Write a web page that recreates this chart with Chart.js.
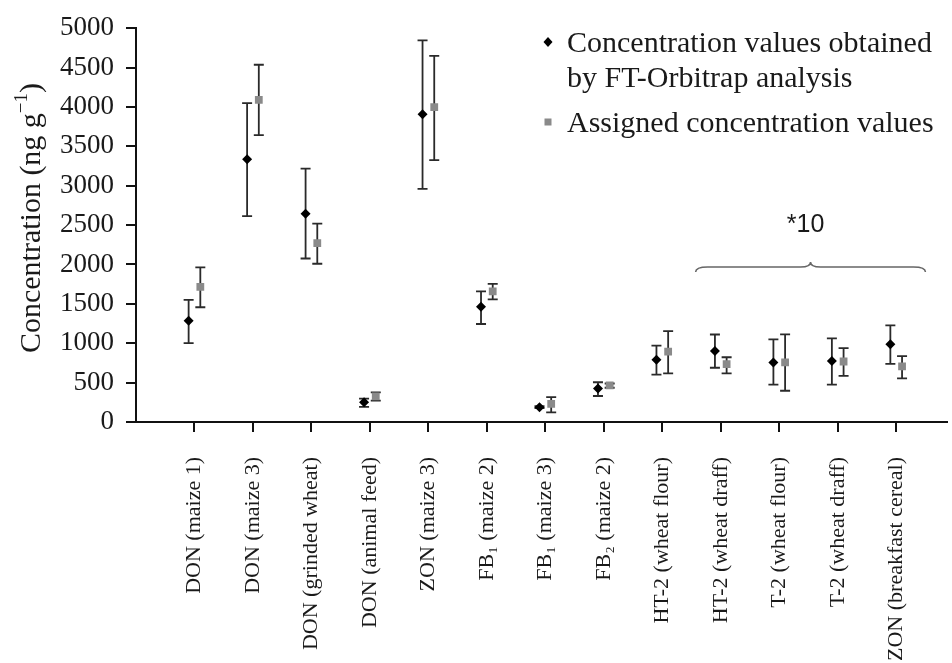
<!DOCTYPE html>
<html>
<head>
<meta charset="utf-8">
<script src="https://cdn.jsdelivr.net/npm/chart.js@4.4.1/dist/chart.umd.min.js"></script>
<style>
  html, body { margin: 0; padding: 0; background: #fff; }
  #wrap { width: 952px; height: 663px; position: relative; }
</style>
</head>
<body>
<div id="wrap"><canvas id="concChart"></canvas></div>
<script>
// === Data ===
const samples = [
  "DON (maize 1)", "DON (maize 3)", "DON (grinded wheat)", "DON (animal feed)",
  "ZON (maize 3)", "FB\u2081 (maize 2)", "FB\u2081 (maize 3)", "FB\u2082 (maize 2)",
  "HT-2 (wheat flour)", "HT-2 (wheat draff)", "T-2 (wheat flour)", "T-2 (wheat draff)",
  "ZON (breakfast cereal)"
];
const orbitrapValues = [1287, 3337, 2644, 251, 3906, 1462, 188, 426, 789, 902, 756, 773, 988];
const orbitrapLow    = [1002, 2615, 2076, 192, 2961, 1244, 175, 330, 602, 689, 474, 474, 739];
const orbitrapHigh   = [1550, 4048, 3217, 297, 4845, 1658, 200, 505, 969, 1111, 1049, 1063, 1226];
const assignedValues = [1717, 4089, 2272, 326, 3997, 1658, 229, 464, 894, 736, 756, 768, 706];
const assignedLow    = [1457, 3643, 2009, 272, 3325, 1558, 122, 435, 618, 618, 397, 585, 555];
const assignedHigh   = [1963, 4536, 2519, 376, 4649, 1754, 317, 489, 1153, 822, 1113, 938, 836];
const yTicks = [0, 500, 1000, 1500, 2000, 2500, 3000, 3500, 4000, 4500, 5000];

const legendOrbitrap = ["Concentration values obtained", "by FT-Orbitrap analysis"];
const legendAssigned = "Assigned concentration values";
const bracketLabel = "*10";
const bracketFirst = 10, bracketLast = 13;

const serif = '"Liberation Serif", "Times New Roman", serif';
const ink = "#1a1a1a";
const grey = "#8a8a8a";

// === Error bars ===
const errorBars = {
  id: "errorBars",
  beforeDatasetsDraw(chart) {
    const { ctx } = chart;
    const sets = [[0, orbitrapLow, orbitrapHigh], [1, assignedLow, assignedHigh]];
    ctx.save();
    ctx.strokeStyle = "#2a2a2a";
    ctx.lineWidth = 1.8;
    sets.forEach(([di, low, high]) => {
      chart.getDatasetMeta(di).data.forEach((pt, i) => {
        const y1 = chart.scales.y.getPixelForValue(low[i]);
        const y2 = chart.scales.y.getPixelForValue(high[i]);
        ctx.beginPath();
        ctx.moveTo(pt.x, y1); ctx.lineTo(pt.x, y2);
        ctx.moveTo(pt.x - 5, y1); ctx.lineTo(pt.x + 5, y1);
        ctx.moveTo(pt.x - 5, y2); ctx.lineTo(pt.x + 5, y2);
        ctx.stroke();
      });
    });
    ctx.restore();
  }
};

// === Annotations: y title, legend, bracket ===
const decorations = {
  id: "decorations",
  afterDraw(chart) {
    const { ctx, scales } = chart;
    ctx.save();

    // y title with superscript
    ctx.translate(40, 218);
    ctx.rotate(-Math.PI / 2);
    ctx.fillStyle = ink;
    ctx.textBaseline = "alphabetic";
    const main = "Concentration (ng g", sup = "\u22121", tail = ")";
    ctx.font = "30px " + serif;
    const wMain = ctx.measureText(main).width, wTail = ctx.measureText(tail).width;
    ctx.font = "19px " + serif;
    const wSup = ctx.measureText(sup).width;
    let x = -(wMain + wSup + wTail) / 2;
    ctx.font = "30px " + serif;
    ctx.fillText(main, x, 0); x += wMain;
    ctx.font = "19px " + serif;
    ctx.fillText(sup, x, -13); x += wSup;
    ctx.font = "30px " + serif;
    ctx.fillText(tail, x, 0);
    ctx.restore();

    // legend
    ctx.save();
    ctx.fillStyle = "#000";
    ctx.beginPath();
    ctx.moveTo(548, 37); ctx.lineTo(552.5, 42); ctx.lineTo(548, 47); ctx.lineTo(543.5, 42);
    ctx.closePath(); ctx.fill();
    ctx.fillStyle = grey;
    ctx.fillRect(544.5, 118.5, 7, 7);
    ctx.fillStyle = ink;
    ctx.font = "30px " + serif;
    ctx.textBaseline = "alphabetic";
    ctx.fillText(legendOrbitrap[0], 567, 52);
    ctx.fillText(legendOrbitrap[1], 567, 87);
    ctx.fillText(legendAssigned, 567, 132);

    // bracket over the *10 samples
    const xL = scales.x.getPixelForValue(bracketFirst - 0.43);
    const xR = scales.x.getPixelForValue(bracketLast + 0.5);
    const xM = (xL + xR) / 2;
    const yB = 267;
    ctx.strokeStyle = "#666";
    ctx.lineWidth = 1.5;
    ctx.beginPath();
    ctx.moveTo(xL, yB + 5);
    ctx.quadraticCurveTo(xL, yB, xL + 12, yB);
    ctx.lineTo(xM - 10, yB);
    ctx.quadraticCurveTo(xM, yB, xM, yB - 5);
    ctx.quadraticCurveTo(xM, yB, xM + 10, yB);
    ctx.lineTo(xR - 12, yB);
    ctx.quadraticCurveTo(xR, yB, xR, yB + 5);
    ctx.stroke();
    ctx.fillStyle = ink;
    ctx.font = '25px "Liberation Sans", Arial, sans-serif';
    ctx.textAlign = "center";
    ctx.fillText(bracketLabel, xM - 5, 232);
    ctx.restore();
  }
};

// === Chart ===
new Chart(document.getElementById("concChart"), {
  type: "scatter",
  data: {
    datasets: [
      {
        label: legendOrbitrap.join(" "),
        data: orbitrapValues.map((v, i) => ({ x: i + 1 - 0.1, y: v })),
        pointStyle: "rectRot",
        pointRadius: 5,
        backgroundColor: "#000",
        borderColor: "#000",
        borderWidth: 0
      },
      {
        label: legendAssigned,
        data: assignedValues.map((v, i) => ({ x: i + 1 + 0.1, y: v })),
        pointStyle: "rect",
        pointRadius: 5.5,
        backgroundColor: grey,
        borderColor: grey,
        borderWidth: 0
      }
    ]
  },
  options: {
    responsive: true,
    maintainAspectRatio: false,
    animation: false,
    layout: { padding: { top: 23, right: 0, left: 0, bottom: 0 } },
    plugins: { legend: { display: false }, tooltip: { enabled: false } },
    scales: {
      x: {
        type: "linear",
        min: 0,
        max: 13.86,
        afterBuildTicks: (s) => { s.ticks = samples.map((_, i) => ({ value: i + 1 })); },
        afterFit: (s) => { s.height = 241; },
        grid: { drawOnChartArea: false, tickLength: 10, color: "#111", lineWidth: 2 },
        border: { color: "#111", width: 2 },
        ticks: {
          autoSkip: false,
          minRotation: 90,
          maxRotation: 90,
          padding: 25,
          color: ink,
          font: { family: serif, size: 22 },
          callback: (v) => samples[v - 1] || ""
        }
      },
      y: {
        min: 0,
        max: 5000,
        afterBuildTicks: (s) => { s.ticks = yTicks.map(v => ({ value: v })); },
        afterFit: (s) => { s.width = 136; },
        grid: { drawOnChartArea: false, tickLength: 10, color: "#111", lineWidth: 2 },
        border: { color: "#111", width: 2 },
        ticks: {
          padding: 12,
          color: ink,
          font: { family: serif, size: 27 },
          callback: (v) => String(v)
        }
      }
    }
  },
  plugins: [errorBars, decorations]
});
</script>
</body>
</html>
